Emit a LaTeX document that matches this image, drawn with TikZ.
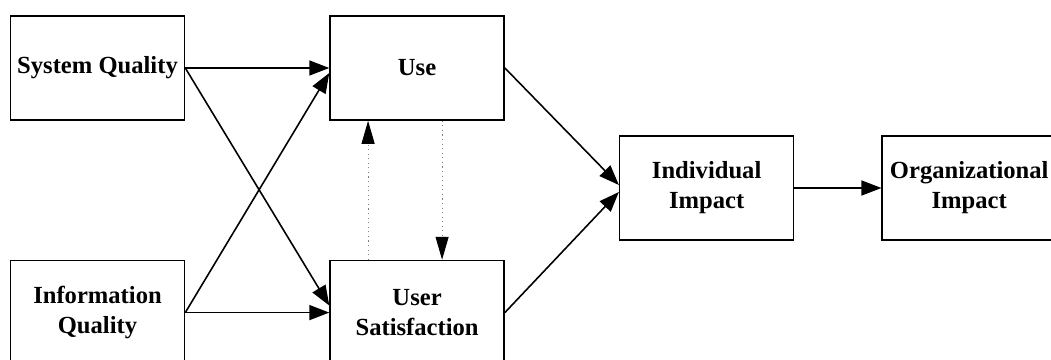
\documentclass[tikz,border=0pt]{standalone}
\usepackage{fontspec}
\setmainfont{Liberation Serif}
\usetikzlibrary{arrows.meta, positioning}

\begin{document}
\begin{tikzpicture}[
        node distance=2.88cm,
        box/.style={rectangle, draw, line width=0.9pt, minimum width=3.48cm, minimum height=2.08cm, align=center, font=\fontsize{14}{17}\selectfont\bfseries},
        arrow/.style={-{Triangle[length=0.4cm, width=0.3cm]}, line width=0.9pt},
        dotarrow/.style={-{Triangle[length=0.46cm, width=0.26cm, color=black]}, draw=gray, dotted, line width=0.6pt}
    ]
        \useasboundingbox (0,0) rectangle (21.02,-7.2);

        \node[box] (sysq) at (1.95,-1.36) {System Quality};
        \node[box, right=of sysq] (use) {Use};
        \node[box, below=2.78cm of sysq] (infoq) {Information\\Quality};
        \node[box, below=2.78cm of use] (usat) {User\\Satisfaction};
        \node[box, right=2.28cm of use, yshift=-2.4cm] (indiv) {Individual\\Impact};
        \node[box, right=1.74cm of indiv] (org) {Organizational\\Impact};

        \draw[arrow] (sysq.east) -- (use.west);
        \draw[arrow] (sysq.east) -- ([yshift=0.14cm]usat.west);
        \draw[arrow] (infoq.east) -- ([yshift=-0.1cm]use.west);
        \draw[arrow] (infoq.east) -- (usat.west);
        \draw[arrow] (use.east) -- ([yshift=0.06cm]indiv.west);
        \draw[arrow] (usat.east) -- ([yshift=-0.08cm]indiv.west);
        \draw[arrow] (indiv) -- (org);

        % feedback between use and satisfaction
        \draw[dotarrow] ([xshift=-0.98cm]usat.north) -- ([xshift=-0.98cm]use.south);
        \draw[dotarrow] ([xshift=0.5cm]use.south) -- ([xshift=0.5cm]usat.north);

    \end{tikzpicture}
\end{document}
